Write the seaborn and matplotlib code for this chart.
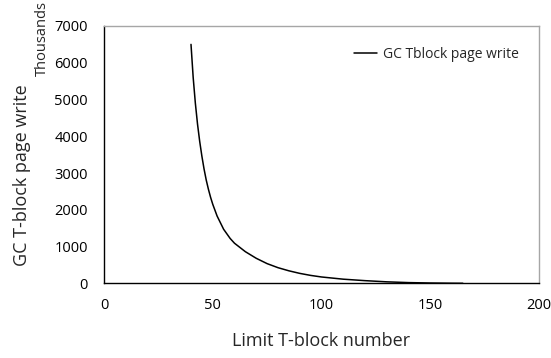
import matplotlib
matplotlib.use("Agg")
import matplotlib.pyplot as plt
import seaborn as sns
import pandas as pd

# Limit T-block number vs. GC T-block page writes (in thousands)
limit_tblock = [40, 41, 42, 43, 44, 45, 46, 47, 48, 49, 50, 52, 55, 58, 60, 65,
                70, 75, 80, 85, 90, 95, 100, 110, 120, 130, 140, 150, 160, 165]
gc_page_write = [6500, 5600, 4900, 4330, 3860, 3460, 3110, 2810, 2560, 2340,
                 2150, 1830, 1470, 1220, 1090, 860, 680, 535, 425, 340, 270,
                 215, 172, 112, 72, 40, 19, 8, 2, 0]
series_name = "GC Tblock page write"

x_ticks = [0, 50, 100, 150, 200]
y_ticks = [0, 1000, 2000, 3000, 4000, 5000, 6000, 7000]

sns.set_theme(style="white")
plt.rcParams["font.family"] = ["Open Sans", "DejaVu Sans"]

df = pd.DataFrame({"limit": limit_tblock, "writes": gc_page_write,
                   "series": series_name})

fig = plt.figure(figsize=(5.51, 3.58), dpi=100)
ax = fig.add_axes([104 / 551, 1 - 283.3 / 358, 435 / 551, 257.3 / 358])

sns.lineplot(data=df, x="limit", y="writes", hue="series",
             palette=["black"], linewidth=1.1, ax=ax)

ax.set_xlim(0, 200)
ax.set_ylim(0, 7000)
ax.set_xticks(x_ticks)
ax.set_yticks(y_ticks)
ax.tick_params(axis="both", length=0, labelsize=10.5, colors="black")
ax.tick_params(axis="y", pad=11.5)
ax.tick_params(axis="x", pad=10.5)

for side in ("left", "bottom"):
    ax.spines[side].set_color("black")
    ax.spines[side].set_linewidth(1.0)
for side in ("top", "right"):
    ax.spines[side].set_color("#a6a6a6")
    ax.spines[side].set_linewidth(1.0)

ax.set_xlabel("Limit T-block number", fontsize=13, labelpad=14)
ax.set_ylabel("GC T-block page write", fontsize=13)
ax.yaxis.set_label_coords(-0.168, 0.42)

fig.text(42 / 551, 1 - 38 / 358, "Thousands", rotation=90, fontsize=10.5,
         ha="center", va="center")

leg = ax.legend(loc="upper right", bbox_to_anchor=(0.982, 0.968), frameon=False,
                fontsize=10, handlelength=1.7, handletextpad=0.4)

fig.savefig("out.png", dpi=100)
